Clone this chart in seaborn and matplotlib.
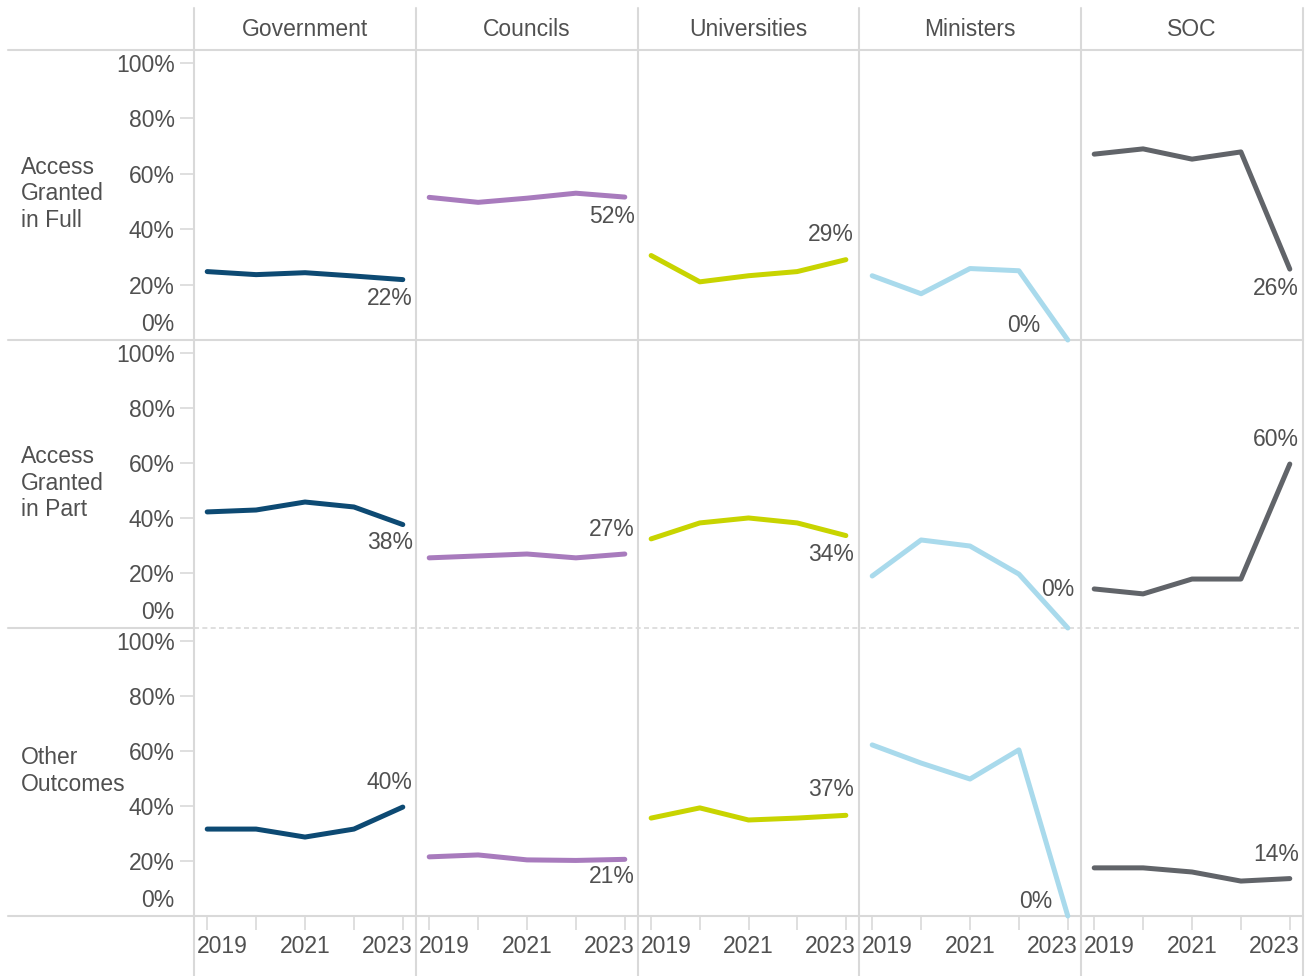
import matplotlib.pyplot as plt
import seaborn as sns
import numpy as np
import pandas as pd
from matplotlib.transforms import ScaledTranslation

years = [2019, 2020, 2021, 2022, 2023]
organisations = ['Government', 'Councils', 'Universities', 'Ministers', 'SOC']
outcomes = ['Access\nGranted\nin Full', 'Access\nGranted\nin Part', 'Other\nOutcomes']

# share of requests (%) per outcome row, for each organisation
government = [[24.7, 23.6, 24.3, 23.1, 21.8],
              [42.2, 42.9, 45.8, 44.0, 37.6],
              [31.6, 31.6, 28.7, 31.6, 39.6]]
councils = [[51.5, 49.7, 51.2, 53.0, 51.6],
            [25.5, 26.2, 26.9, 25.5, 26.9],
            [21.5, 22.2, 20.4, 20.2, 20.6]]
universities = [[30.5, 21.0, 23.2, 24.7, 29.0],
                [32.4, 38.2, 40.0, 38.2, 33.6],
                [35.6, 39.3, 34.9, 35.6, 36.6]]
ministers = [[23.2, 16.7, 25.8, 25.0, 0.0],
             [18.9, 32.0, 29.8, 19.6, 0.0],
             [62.2, 55.6, 49.8, 60.4, 0.0]]
soc = [[67.1, 69.0, 65.3, 67.9, 25.6],
       [14.2, 12.4, 17.8, 17.8, 59.6],
       [17.5, 17.5, 16.0, 12.7, 13.6]]

colors = ['#0d4a73', '#a87bbd', '#c8d400', '#a9daec', '#616469']

# label offsets from last point (pixels): (dx, dy) with dy positive = down
label_offsets = [
    [(10, 19), (10, 19), (8, -25), (-27, -14), (9, 19)],
    [(10, 18), (10, -25), (8, 19), (7, -38), (9, -25)],
    [(10, -25), (10, 17), (8, -26), (-15, -15), (9, -24)],
]

rows = []
for org, vals in zip(organisations, [government, councils, universities, ministers, soc]):
    for i, outcome in enumerate(outcomes):
        for y, v in zip(years, vals[i]):
            rows.append({'org': org, 'outcome': outcome, 'year': y, 'value': v})
df = pd.DataFrame(rows)

sns.set_style('white')
plt.rcParams['font.family'] = ['Liberation Sans', 'DejaVu Sans']
txt = '#505050'
grid = '#d9d9d9'
fs = 16.5

W, H = 1309, 976
fig = plt.figure(figsize=(W / 100, H / 100), dpi=100)

# background frame lines in pixel coords
bg = fig.add_axes([0, 0, 1, 1], zorder=-1)
bg.set_xlim(0, W)
bg.set_ylim(H, 0)
bg.axis('off')

col_x = [194, 416, 638, 859, 1081, 1303]
row_y = [50, 340, 628, 916]

for x in col_x:
    bg.plot([x, x], [8, H], color=grid, lw=1.5)
bg.plot([8, 1303], [50, 50], color=grid, lw=1.5)
bg.plot([8, 1303], [340, 340], color=grid, lw=1.5)
bg.plot([8, 194], [628, 628], color=grid, lw=1.5)
bg.plot([194, 1303], [628, 628], color=grid, lw=1.2, ls=(0, (3, 2)))
bg.plot([8, 1303], [916, 916], color=grid, lw=1.5)

for j, org in enumerate(organisations):
    bg.text((col_x[j] + col_x[j + 1]) / 2, 29, org, ha='center', va='center',
            fontsize=fs, color=txt)
for i, outcome in enumerate(outcomes):
    bg.text(21, (row_y[i] + row_y[i + 1]) / 2 - 1, outcome, ha='left', va='center',
            fontsize=fs, color=txt)

for i, outcome in enumerate(outcomes):
    for j, org in enumerate(organisations):
        x0 = col_x[j] / W
        w = (col_x[j + 1] - col_x[j]) / W
        y0 = 1 - row_y[i + 1] / H
        h = (row_y[i + 1] - row_y[i]) / H
        ax = fig.add_axes([x0, y0, w, h])
        ax.set_facecolor('none')
        sub = df[(df['org'] == org) & (df['outcome'] == outcome)]
        sns.lineplot(data=sub, x='year', y='value', ax=ax, color=colors[j],
                     lw=3.6, solid_capstyle='round', legend=False, clip_on=False)
        ax.set_xlim(2018.73, 2023.27)
        ax.set_ylim(0, 104.7)
        ax.set_xlabel('')
        ax.set_ylabel('')
        for s in ax.spines.values():
            s.set_visible(False)

        last = sub['value'].iloc[-1]
        dx, dy = label_offsets[i][j]
        ax.annotate(f'{last:.0f}%', (years[-1], last), xytext=(dx, -dy),
                    textcoords='offset pixels', ha='right', va='center',
                    fontsize=fs, color=txt)

        if j == 0:
            ax.set_yticks([0, 20, 40, 60, 80, 100])
            ax.set_yticklabels([f'{t}%' for t in [0, 20, 40, 60, 80, 100]])
            ax.tick_params(axis='y', length=10, width=1.2, color=grid,
                           labelsize=fs, labelcolor=txt, pad=4, left=True)
            lbl0 = ax.get_yticklabels()[0]
            lbl0.set_verticalalignment('bottom')
            lbl0.set_transform(lbl0.get_transform() +
                               ScaledTranslation(0, 0.04, fig.dpi_scale_trans))
        else:
            ax.set_yticks([])

        if i == len(outcomes) - 1:
            ax.set_xticks(years)
            ax.set_xticklabels(['2019', '', '2021', '', '2023'])
            ax.tick_params(axis='x', length=10, width=1.2, color=grid,
                           labelsize=fs, labelcolor=txt, pad=4, bottom=True)
            xl = ax.get_xticklabels()
            xl[0].set_horizontalalignment('left')
            xl[0].set_transform(xl[0].get_transform() +
                                ScaledTranslation(-0.10, 0, fig.dpi_scale_trans))
            xl[-1].set_horizontalalignment('right')
            xl[-1].set_transform(xl[-1].get_transform() +
                                 ScaledTranslation(0.10, 0, fig.dpi_scale_trans))
        else:
            ax.set_xticks([])

fig.savefig('out.png', dpi=100)
